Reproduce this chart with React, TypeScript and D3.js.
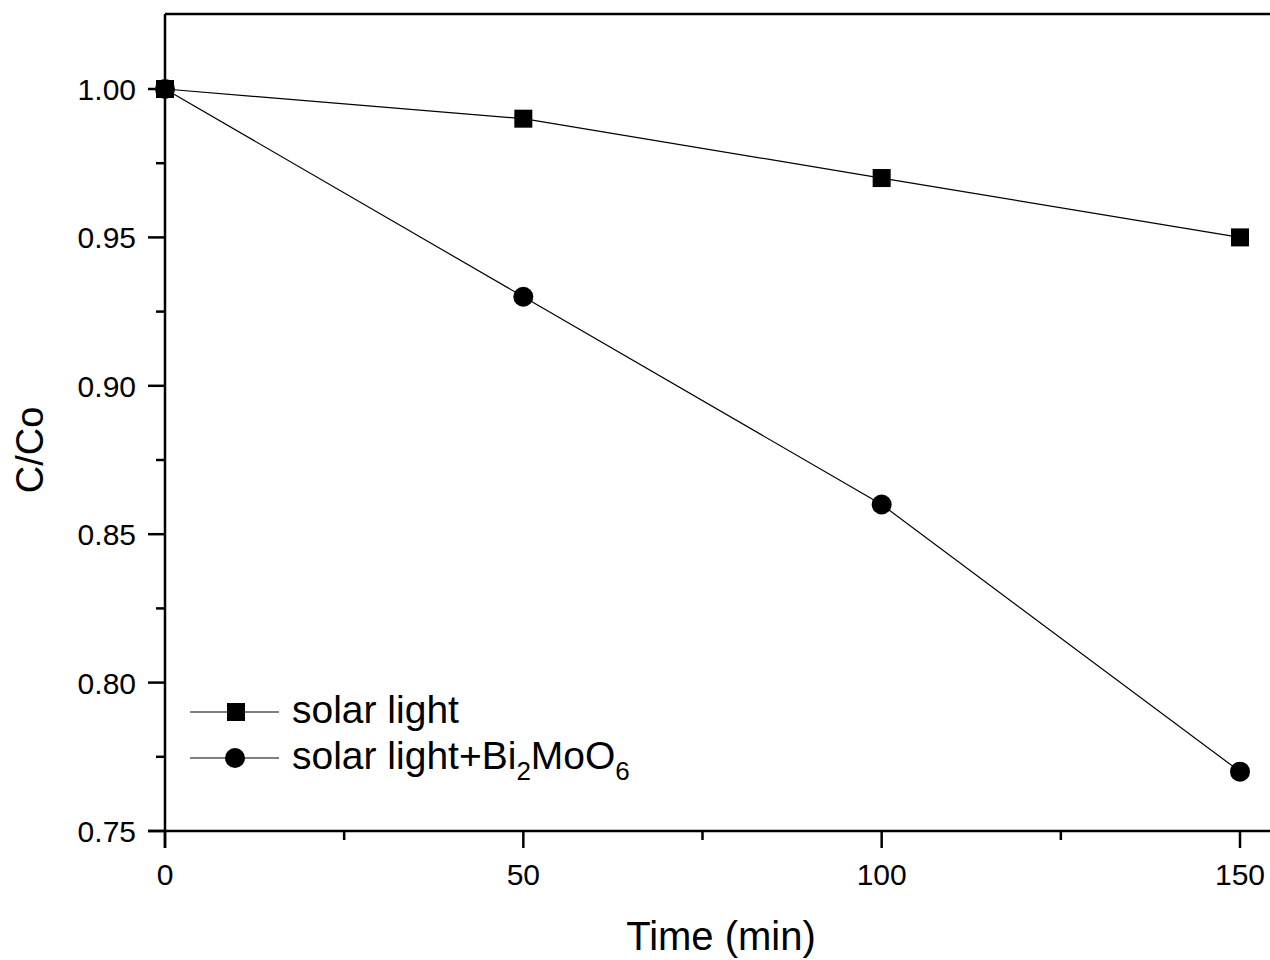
import React from "react";
import * as d3 from "d3";

const W = 1270;
const H = 960;

const times = [0, 50, 100, 150];
const solarLight = [1.0, 0.99, 0.97, 0.95];
const solarBi = [1.0, 0.93, 0.86, 0.77];
const xTicks = [0, 50, 100, 150];
const xMinor = [25, 75, 125];
const yTicks = [0.75, 0.8, 0.85, 0.9, 0.95, 1.0];
const yMinor = [0.775, 0.825, 0.875, 0.925, 0.975, 1.0];

const margin = { left: 165, top: 14, bottom: 831 };

export default function App() {
  const x = d3.scaleLinear().domain([0, 150]).range([165, 1240]);
  const y = d3.scaleLinear().domain([0.75, 1.0]).range([831, 89]);
  const xEnd = W;

  const line = d3
    .line<number>()
    .x((_, i) => x(times[i]))
    .y((d) => y(d));

  const font = "Arial, 'Liberation Sans', sans-serif";

  return (
    <svg
      width={W}
      height={H}
      style={{ position: "absolute", left: 0, top: 0, background: "#fff" }}
      fontFamily={font}
    >
      {/* frame */}
      <line x1={margin.left} x2={xEnd} y1={margin.top} y2={margin.top} stroke="#000" strokeWidth={2.5} />
      <line x1={margin.left} x2={margin.left} y1={margin.top} y2={margin.bottom + 17} stroke="#000" strokeWidth={2.5} />
      <line x1={margin.left - 17} x2={xEnd} y1={margin.bottom} y2={margin.bottom} stroke="#000" strokeWidth={2.5} />

      {/* x ticks */}
      {xTicks.map((t) => (
        <g key={"xt" + t}>
          <line x1={x(t)} x2={x(t)} y1={margin.bottom} y2={margin.bottom + 17} stroke="#000" strokeWidth={2.5} />
          <text x={x(t)} y={885} textAnchor="middle" fontSize={30}>
            {t}
          </text>
        </g>
      ))}
      {xMinor.map((t) => (
        <line key={"xm" + t} x1={x(t)} x2={x(t)} y1={margin.bottom} y2={margin.bottom + 9} stroke="#000" strokeWidth={2.5} />
      ))}

      {/* y ticks */}
      {yTicks.map((t) => (
        <g key={"yt" + t}>
          <line x1={margin.left - 17} x2={margin.left} y1={y(t)} y2={y(t)} stroke="#000" strokeWidth={2.5} />
          <text x={136} y={y(t) + 11} textAnchor="end" fontSize={30}>
            {t.toFixed(2)}
          </text>
        </g>
      ))}
      {yMinor.map((t) => (
        <line key={"ym" + t} x1={margin.left - 9} x2={margin.left} y1={y(t)} y2={y(t)} stroke="#000" strokeWidth={2.5} />
      ))}

      {/* axis titles */}
      <text x={721} y={950} textAnchor="middle" fontSize={40}>
        Time (min)
      </text>
      <text transform="translate(43,450) rotate(-90)" textAnchor="middle" fontSize={38}>
        C/Co
      </text>

      {/* series */}
      <path d={line(solarLight) || ""} fill="none" stroke="#000" strokeWidth={1.2} />
      <path d={line(solarBi) || ""} fill="none" stroke="#000" strokeWidth={1.2} />
      {solarLight.map((v, i) => (
        <rect key={"s" + i} x={x(times[i]) - 9} y={y(v) - 9} width={18} height={18} fill="#000" />
      ))}
      {solarBi.map((v, i) => (
        <circle key={"c" + i} cx={x(times[i])} cy={y(v)} r={10} fill="#000" />
      ))}

      {/* legend */}
      <g>
        <line x1={190} x2={279} y1={712} y2={712} stroke="#000" strokeWidth={1.2} />
        <rect x={227} y={703} width={18} height={18} fill="#000" />
        <text x={292} y={723} fontSize={39}>
          solar light
        </text>
        <line x1={190} x2={279} y1={758} y2={758} stroke="#000" strokeWidth={1.2} />
        <circle cx={235} cy={758} r={10} fill="#000" />
        <text x={292} y={769} fontSize={39}>
          solar light+Bi
          <tspan fontSize={26} dy={11}>2</tspan>
          <tspan dy={-11}>MoO</tspan>
          <tspan fontSize={26} dy={11}>6</tspan>
        </text>
      </g>
    </svg>
  );
}
